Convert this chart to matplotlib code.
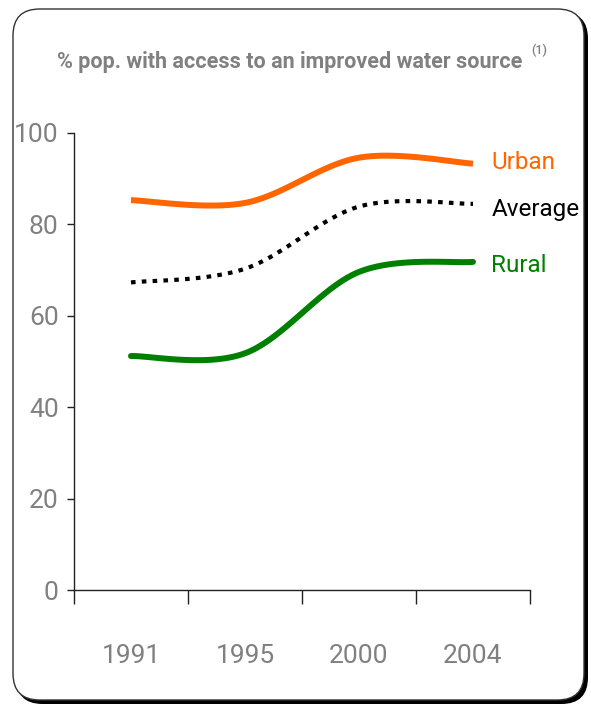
import numpy as np
import matplotlib
matplotlib.use("Agg")
import matplotlib.pyplot as plt
from matplotlib.patches import FancyBboxPatch
from matplotlib import font_manager

years = ["1991", "1995", "2000", "2004"]
urban = [85.3, 84.7, 94.6, 93.3]
average = [67.3, 70.3, 83.9, 84.5]
rural = [51.2, 51.8, 69.6, 71.8]
series_names = ["Urban", "Average", "Rural"]

names = {f.name for f in font_manager.fontManager.ttflist}
narrow = "Liberation Sans Narrow" if "Liberation Sans Narrow" in names else "Roboto"
FAM = [narrow, "DejaVu Sans"]
plt.rcParams['font.family'] = FAM

def smooth(xs, ys, n=40):
    xs = np.asarray(xs, float); ys = np.asarray(ys, float)
    P = np.column_stack([xs, ys])
    out = []
    for i in range(len(P) - 1):
        p0 = P[i - 1] if i > 0 else P[i]
        p1 = P[i]; p2 = P[i + 1]
        p3 = P[i + 2] if i + 2 < len(P) else P[i + 1]
        c1 = p1 + (p2 - p0) / 6.0
        c2 = p2 - (p3 - p1) / 6.0
        t = np.linspace(0, 1, n)[:, None]
        seg = (1 - t) ** 3 * p1 + 3 * (1 - t) ** 2 * t * c1 + 3 * (1 - t) * t ** 2 * c2 + t ** 3 * p2
        out.append(seg if i == 0 else seg[1:])
    s = np.vstack(out)
    return s[:, 0], s[:, 1]

W, H = 591, 707
fig = plt.figure(figsize=(W / 100, H / 100), dpi=100)
fig.patch.set_facecolor("white")

# rounded border with shadow
sh = FancyBboxPatch((16 / W, 3 / H), (588 - 16) / W, (698 - 6) / H,
                    boxstyle="round,pad=0,rounding_size=0.045",
                    transform=fig.transFigure, facecolor="black", edgecolor="black",
                    lw=0, mutation_aspect=W / H, zorder=-10)
fig.patches.append(sh)
box = FancyBboxPatch((13 / W, (H - 700) / H), (584 - 13) / W, (700 - 9) / H,
                     boxstyle="round,pad=0,rounding_size=0.045",
                     transform=fig.transFigure, facecolor="white", edgecolor="#333333",
                     lw=1.0, mutation_aspect=W / H, zorder=-9)
fig.patches.append(box)

ax = fig.add_axes([74 / W, (H - 590) / H, (530 - 74) / W, (590 - 133) / H])
ax.set_zorder(5)
ax.set_facecolor("none")
x = np.arange(len(years)) + 0.5

ux, uy = smooth(x, urban)
ax.plot(ux, uy, color="#FF6600", lw=4.3, solid_capstyle="butt")
axx, ayy = smooth(x, average)
ax.plot(axx, ayy, color="black", lw=3.0, dashes=(1.1, 1.5), dash_capstyle="butt")
rx, ry = smooth(x, rural)
ax.plot(rx, ry, color="#008000", lw=4.3, solid_capstyle="round")

ax.set_xlim(0, len(years))
ax.set_ylim(0, 100)
ax.set_yticks([0, 20, 40, 60, 80, 100])
ax.set_xticks(np.arange(len(years) + 1))
ax.set_xticklabels([])
ax.set_xticks(x, minor=True)
ax.set_xticklabels(years, minor=True)
ax.tick_params(axis="x", which="major", direction="out", length=10, width=1, color="#222222")
ax.tick_params(axis="x", which="minor", length=0, pad=39, labelsize=19, labelcolor="#808080")
ax.tick_params(axis="y", direction="out", length=5, width=1, color="#222222",
               labelsize=19, labelcolor="#808080", pad=6)
for s in ["top", "right"]:
    ax.spines[s].set_visible(False)
for s in ["left", "bottom"]:
    ax.spines[s].set_color("#222222")
    ax.spines[s].set_linewidth(1.0)

ax.text(len(years) - 0.5 + 0.16, urban[-1] + 0.3, series_names[0], color="#FF6600",
        fontsize=17.5, va="center", ha="left", clip_on=False)
ax.text(len(years) - 0.5 + 0.16, average[-1] - 1.2, series_names[1], color="black",
        fontsize=17.5, va="center", ha="left", clip_on=False)
ax.text(len(years) - 0.5 + 0.16, rural[-1] - 0.8, series_names[2], color="#008000",
        fontsize=17.5, va="center", ha="left", clip_on=False)

fig.text(290 / W, 1 - 62 / H, "% pop. with access to an improved water source",
         ha="center", va="center", fontsize=15.5, fontweight="bold", color="#808080")
fig.text(531 / W, 1 - 50 / H, "(1)", ha="left", va="center", fontsize=9,
         fontweight="medium", color="#808080")

fig.savefig("out.png", dpi=100, facecolor="white")
